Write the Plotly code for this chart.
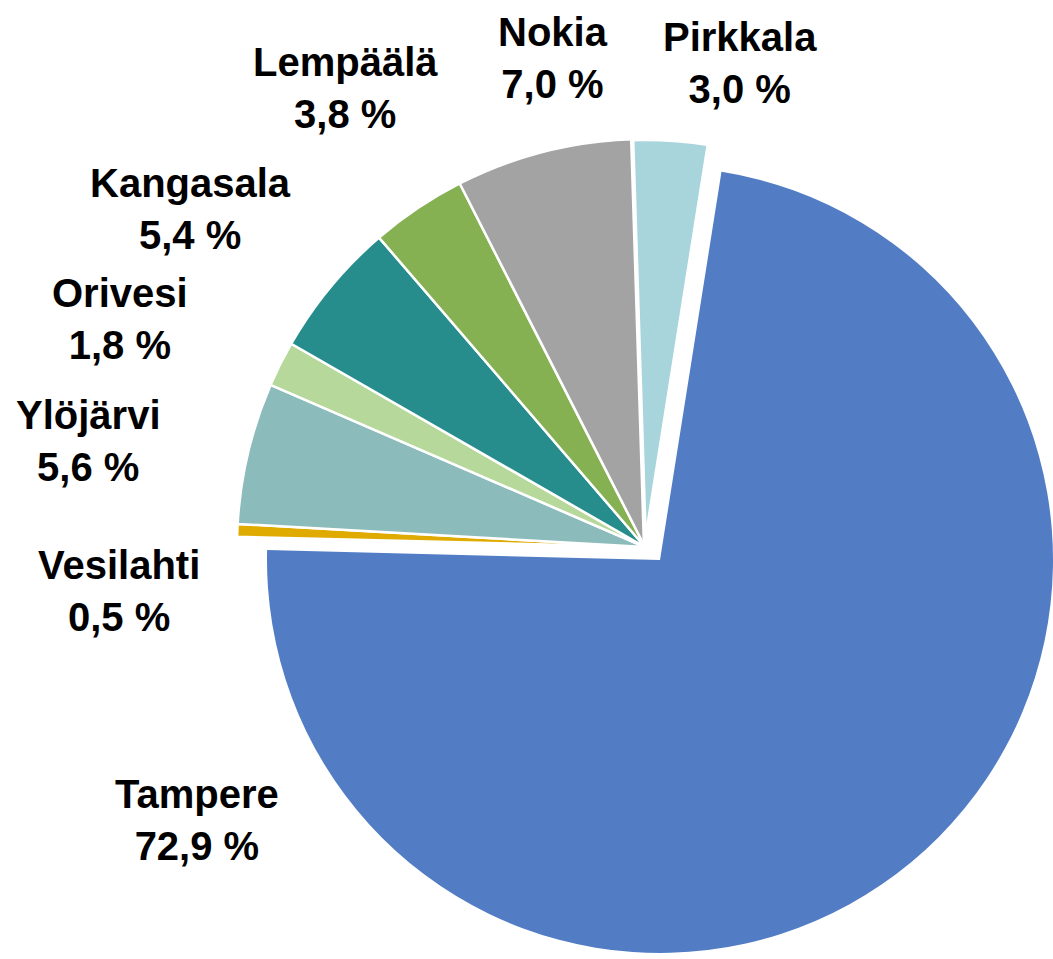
import plotly.graph_objects as go

# Municipality shares (%) in clockwise order starting from Tampere
municipalities = ["Tampere", "Vesilahti", "Ylöjärvi", "Orivesi",
                  "Kangasala", "Lempäälä", "Nokia", "Pirkkala"]
shares = [72.9, 0.5, 5.6, 1.8, 5.4, 3.8, 7.0, 3.0]

colors = ["#527DC5", "#DFAB00", "#8BBBBB", "#B6D89A",
          "#268C8C", "#86B153", "#A3A3A3", "#A8D4DC"]

W, H = 1053, 959
CLEAR = "rgba(0,0,0,0)"

# label block centres in pixels (x, y from top)
label_pos = {
    "Tampere": (197, 820),
    "Vesilahti": (119, 591),
    "Ylöjärvi": (88, 441),
    "Orivesi": (120, 319),
    "Kangasala": (190, 209),
    "Lempäälä": (345, 88),
    "Nokia": (553, 58),
    "Pirkkala": (740, 63),
}

# white separator width per slice (Pirkkala set slightly apart)
edge_width = {"Pirkkala": 4.5}


def dom_x(cx, half):
    return [max(0.0, (cx - half) / W), min(1.0, (cx + half) / W)]


def dom_y(cy, half):
    return [max(0.0, (H - (cy + half)) / H), min(1.0, (H - (cy - half)) / H)]


is_main = [m == "Tampere" for m in municipalities]

fig = go.Figure()

# smaller municipalities
fig.add_trace(go.Pie(
    labels=municipalities,
    values=shares,
    sort=False,
    direction="clockwise",
    rotation=9,
    marker=dict(
        colors=[CLEAR if main else c for main, c in zip(is_main, colors)],
        line=dict(color="white",
                  width=[0 if main else edge_width.get(m, 2.5)
                         for main, m in zip(is_main, municipalities)]),
    ),
    textinfo="none",
    hoverinfo="none",
    showlegend=False,
    domain=dict(x=dom_x(645, 408), y=dom_y(547, 408)),
))

# Tampere, exploded out of the pie
fig.add_trace(go.Pie(
    labels=municipalities,
    values=shares,
    sort=False,
    direction="clockwise",
    rotation=9,
    marker=dict(
        colors=[c if main else CLEAR for main, c in zip(is_main, colors)],
        line=dict(color="white", width=0),
    ),
    textinfo="none",
    hoverinfo="none",
    showlegend=False,
    domain=dict(x=dom_x(660, 393), y=dom_y(560, 393)),
))

for name, val in zip(municipalities, shares):
    px, py = label_pos[name]
    fig.add_annotation(
        x=px / W, y=1 - py / H, xref="paper", yref="paper",
        xanchor="center", yanchor="middle", showarrow=False,
        text=f"{name}<br>{val:.1f} %".replace(".", ","),
        font=dict(family="Liberation Sans, Arial, sans-serif",
                  size=40, color="black", weight="bold"),
    )

fig.update_layout(
    width=W, height=H,
    margin=dict(l=0, r=0, t=0, b=0),
    paper_bgcolor="white",
    plot_bgcolor="white",
)

fig.write_html("out.html")
